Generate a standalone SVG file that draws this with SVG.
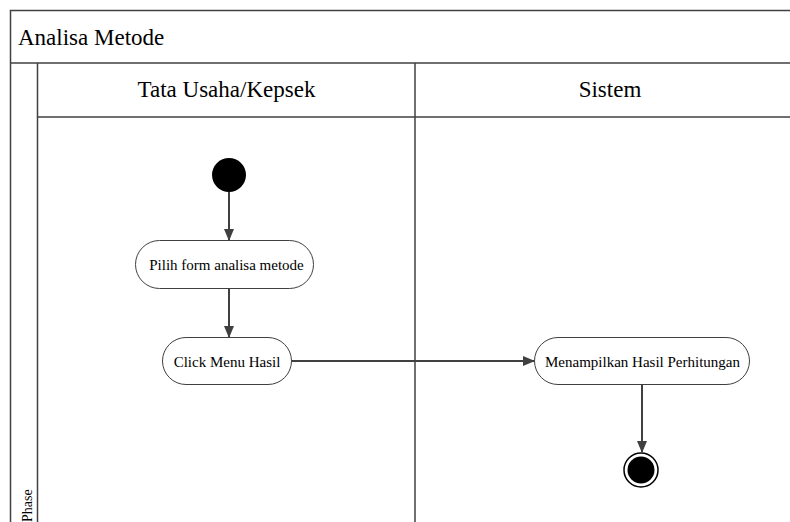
<svg xmlns="http://www.w3.org/2000/svg" width="790" height="522" viewBox="0 0 790 522">
<defs>
<style>
.frame{fill:#fff;stroke:#404040;stroke-width:1.5}
.ln{fill:none;stroke:#404040;stroke-width:1.5}
.act{fill:#fff;stroke:#404040;stroke-width:1}
.conn{fill:none;stroke:#404040;stroke-width:2}
</style>
<marker id="ah" markerWidth="12" markerHeight="10" refX="11" refY="5" orient="auto" markerUnits="userSpaceOnUse">
<path d="M0,0 L12,5 L0,10 Z" fill="#404040"/>
</marker>
</defs>
<rect width="790" height="522" fill="#fff"/>
<g id="pool">
<rect class="frame" x="10.5" y="10.5" width="800" height="540"/>
<line class="ln" x1="10.5" y1="63" x2="800" y2="63"/>
<line class="ln" x1="37.5" y1="63" x2="37.5" y2="530"/>
<line class="ln" x1="37.5" y1="117" x2="800" y2="117"/>
<line class="ln" x1="415" y1="63" x2="415" y2="530"/>
<text x="18" y="45" font-size="23" font-family="Liberation Serif">Analisa Metode</text>
<text x="226.5" y="97" text-anchor="middle" font-size="23" font-family="Liberation Serif">Tata Usaha/Kepsek</text>
<text x="610" y="97" text-anchor="middle" font-size="23" font-family="Liberation Serif">Sistem</text>
<text font-size="14" transform="translate(32,522) rotate(-90)" font-family="Liberation Serif">Phase</text>
</g>
<g id="start"><circle cx="229" cy="175" r="17" fill="#000"/></g>
<g id="pilih">
<rect class="act" x="135.5" y="240.5" width="178" height="48" rx="24"/>
<text x="226.5" y="270" text-anchor="middle" font-size="15" font-family="Liberation Serif">Pilih form analisa metode</text>
</g>
<g id="click">
<rect class="act" x="162.5" y="337.5" width="129" height="47" rx="23.5"/>
<text x="227" y="367" text-anchor="middle" font-size="15" font-family="Liberation Serif">Click Menu Hasil</text>
</g>
<g id="tampil">
<rect class="act" x="534.5" y="337.5" width="215" height="47" rx="23.5"/>
<text x="642.5" y="367" text-anchor="middle" font-size="15" font-family="Liberation Serif">Menampilkan Hasil Perhitungan</text>
</g>
<g id="end">
<circle cx="641" cy="470" r="17" fill="#fff" stroke="#000" stroke-width="1.5"/>
<circle cx="641" cy="470" r="13.5" fill="#000"/>
</g>
<g id="connectors">
<line class="conn" x1="229" y1="192" x2="229" y2="240" marker-end="url(#ah)"/>
<line class="conn" x1="229" y1="289" x2="229" y2="337" marker-end="url(#ah)"/>
<line class="conn" x1="292" y1="361" x2="534" y2="361" marker-end="url(#ah)"/>
<line class="conn" x1="642" y1="385" x2="642" y2="452" marker-end="url(#ah)"/>
</g>
</svg>
